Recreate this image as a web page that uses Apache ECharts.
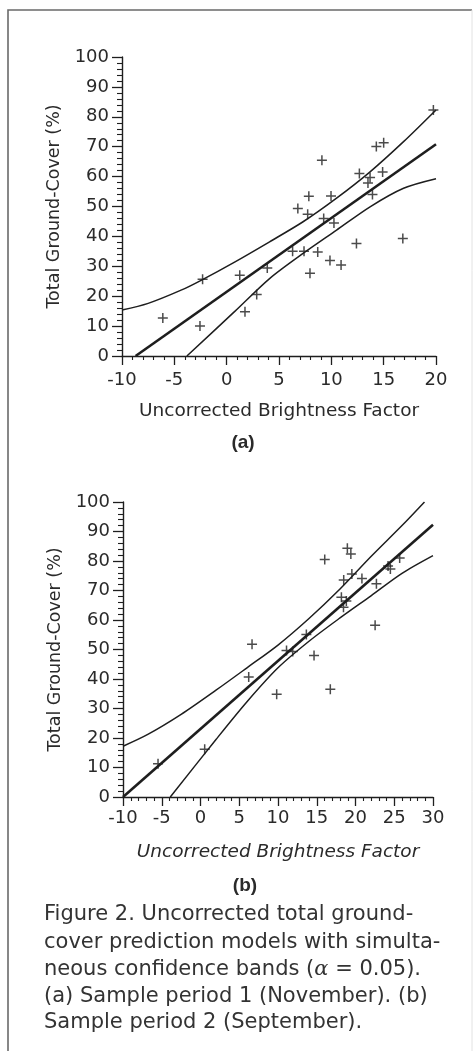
<!DOCTYPE html>
<html>
<head>
<meta charset="utf-8">
<script src="https://cdn.jsdelivr.net/npm/echarts@6/dist/echarts.min.js"></script>
<style>
html,body{margin:0;padding:0;background:#fff;}
#c{width:475px;height:1051px;}
</style>
</head>
<body>
<div id="c"></div>
<script>
// ---- Panel (a): Sample period 1 (November) ----
const xTicksA = [-10, 20, 5];          // min, max, interval
const yTicks = [0, 100, 10];           // min, max, interval
const pointsA = [[-6.1,12.7],[-2.55,10.0],[-2.3,25.7],[1.25,27.0],[1.75,14.8],[2.87,20.6],[3.88,29.4],
  [6.3,35.0],[7.39,35.0],[6.8,49.3],[7.85,53.4],[7.74,47.4],[7.96,27.7],[8.7,34.8],[9.1,65.5],
  [9.27,46.0],[9.97,53.5],[10.25,44.5],[9.87,31.9],[10.93,30.4],[12.4,37.6],[12.68,61.0],[13.5,57.9],
  [13.7,59.7],[13.93,54.0],[14.3,70.1],[15.0,71.3],[14.9,61.5],[16.83,39.3],[19.75,82.3]];
const fitA = [[-8.7,0],[20,70.8]];
const upperA = [[-10,15.4],[-7.5,17.6],[-4.3,22.1],[-2.4,25.4],[0.8,31.5],[4.1,38.2],[7.3,44.9],
  [10.5,52.8],[13.7,61.6],[16.9,71.7],[20,82.3]];
const lowerA = [[-3.8,0],[0.8,15.0],[4.1,25.9],[7.3,34.3],[10.5,42.1],[13.7,49.9],[16.9,56.1],[20,59.3]];

// ---- Panel (b): Sample period 2 (September) ----
const xTicksB = [-10, 30, 5];
const pointsB = [[-5.48,11.3],[0.54,16.2],[6.22,40.7],[6.65,51.8],[9.83,34.8],[11.1,49.7],[11.9,49.3],
  [13.66,55.1],[14.65,48.0],[16.03,80.5],[16.75,36.5],[18.18,67.7],[18.45,64.3],[18.48,73.6],
  [18.82,66.4],[18.95,84.3],[19.4,82.4],[19.53,75.6],[20.83,74.1],[22.7,72.3],[22.53,58.2],
  [24.2,78.3],[24.5,77.3],[25.7,81.0]];
const fitB = [[-10,0],[30,92.3]];
const upperB = [[-10,17.2],[-6.8,21.2],[-2.5,28.0],[2,36.2],[6,43.8],[10,51.5],[14,60.5],[18,70.5],
  [22,81.5],[26,92.0],[28.9,100]];
const lowerB = [[-3.9,0],[2,19.5],[6,32.3],[10,43.8],[14,52.8],[18,60.7],[22,68.2],[26,75.8],[30,81.8]];

const yTitle = 'Total Ground-Cover (%)';
const xTitle = 'Uncorrected Brightness Factor';
const captionLines = [
  'Figure 2. Uncorrected total ground-',
  'cover prediction models with simulta-',
  '{n|neous confidence bands (}{a|α}{n| = 0.05).}',
  '(a) Sample period 1 (November). (b)',
  'Sample period 2 (September).'
];

const INK = '#1e1e1e';
const TXT = '#2a2a2a';
const FONT = 'DejaVu Sans';
const plus = 'path://M-1,-0.15L1,-0.15L1,0.15L-1,0.15Z M-0.15,-1L0.15,-1L0.15,1L-0.15,1Z';

function xAxisCfg(gi, t, margin, italic) {
  return {
    type: 'value', gridIndex: gi, min: t[0], max: t[1], interval: t[2],
    axisLine: {show: true, onZero: false, lineStyle: {color: INK, width: 1.4}},
    axisTick: {show: true, length: 9, lineStyle: {color: INK, width: 1.3}},
    minorTick: {show: true, splitNumber: 5, length: 4, lineStyle: {color: INK, width: 1.1}},
    splitLine: {show: false}, minorSplitLine: {show: false},
    axisLabel: {color: TXT, fontFamily: FONT, fontSize: 18, margin: margin},
    name: xTitle, nameLocation: 'middle', nameGap: 46,
    nameTextStyle: {color: TXT, fontFamily: FONT, fontSize: 18.5, fontStyle: italic ? 'italic' : 'normal'}
  };
}
function yAxisCfg(gi) {
  return {
    type: 'value', gridIndex: gi, min: yTicks[0], max: yTicks[1], interval: yTicks[2],
    axisLine: {show: true, onZero: false, lineStyle: {color: INK, width: 1.4}},
    axisTick: {show: true, length: 10, lineStyle: {color: INK, width: 1.3}},
    minorTick: {show: true, splitNumber: 5, length: 5, lineStyle: {color: INK, width: 1.1}},
    splitLine: {show: false}, minorSplitLine: {show: false},
    axisLabel: {color: TXT, fontFamily: FONT, fontSize: 18, margin: 13},
    name: yTitle, nameLocation: 'middle', nameGap: 57, nameRotate: 90,
    nameTextStyle: {color: TXT, fontFamily: FONT, fontSize: 17.5}
  };
}
function lineS(gi, data, w, smooth) {
  return {type: 'line', xAxisIndex: gi, yAxisIndex: gi, data: data, symbol: 'none',
    smooth: smooth, lineStyle: {color: INK, width: w}, silent: true, animation: false, z: 2};
}
function scatS(gi, data) {
  return {type: 'scatter', xAxisIndex: gi, yAxisIndex: gi, data: data, symbol: plus,
    symbolSize: 10, itemStyle: {color: INK}, silent: true, animation: false, z: 3};
}

const graphics = [
  {type: 'polyline', shape: {points: [[8, 1060], [8, 10], [472, 10]]}, style: {stroke: '#6a6a6a', lineWidth: 1.6, fill: null}},
  {type: 'line', shape: {x1: 472, y1: 10, x2: 472, y2: 1060}, style: {stroke: '#e2e2e2', lineWidth: 1}},
  {type: 'text', style: {text: '(a)', x: 243, y: 443, textAlign: 'center', textVerticalAlign: 'middle',
    fontFamily: 'Liberation Sans', fontWeight: 'bold', fontSize: 19, fill: TXT}},
  {type: 'text', style: {text: '(b)', x: 245, y: 886, textAlign: 'center', textVerticalAlign: 'middle',
    fontFamily: 'Liberation Sans', fontWeight: 'bold', fontSize: 19, fill: TXT}}
];
const capY = [915, 943, 970, 997, 1023];
captionLines.forEach((t, i) => {
  graphics.push({type: 'text', style: {
    text: t, x: 44, y: capY[i], textAlign: 'left', textVerticalAlign: 'middle',
    fontFamily: FONT, fontSize: 21, fill: '#333333',
    rich: {
      n: {fontFamily: FONT, fontSize: 21, fill: '#333333'},
      a: {fontFamily: 'DejaVu Serif', fontStyle: 'italic', fontSize: 21, fill: '#333333'}
    }
  }});
});

const chart = echarts.init(document.getElementById('c'), null, {renderer: 'canvas'});
chart.setOption({
  animation: false,
  backgroundColor: '#fff',
  grid: [
    {left: 122, top: 57, width: 314, height: 299},
    {left: 123, top: 502, width: 310, height: 295}
  ],
  xAxis: [xAxisCfg(0, xTicksA, 15, false), xAxisCfg(1, xTicksB, 12, true)],
  yAxis: [yAxisCfg(0), yAxisCfg(1)],
  series: [
    lineS(0, upperA, 1.5, 0.3), lineS(0, lowerA, 1.5, 0.3), lineS(0, fitA, 2.6, false), scatS(0, pointsA),
    lineS(1, upperB, 1.5, 0.3), lineS(1, lowerB, 1.5, 0.3), lineS(1, fitB, 2.6, false), scatS(1, pointsB)
  ],
  graphic: graphics
});
</script>
</body>
</html>
